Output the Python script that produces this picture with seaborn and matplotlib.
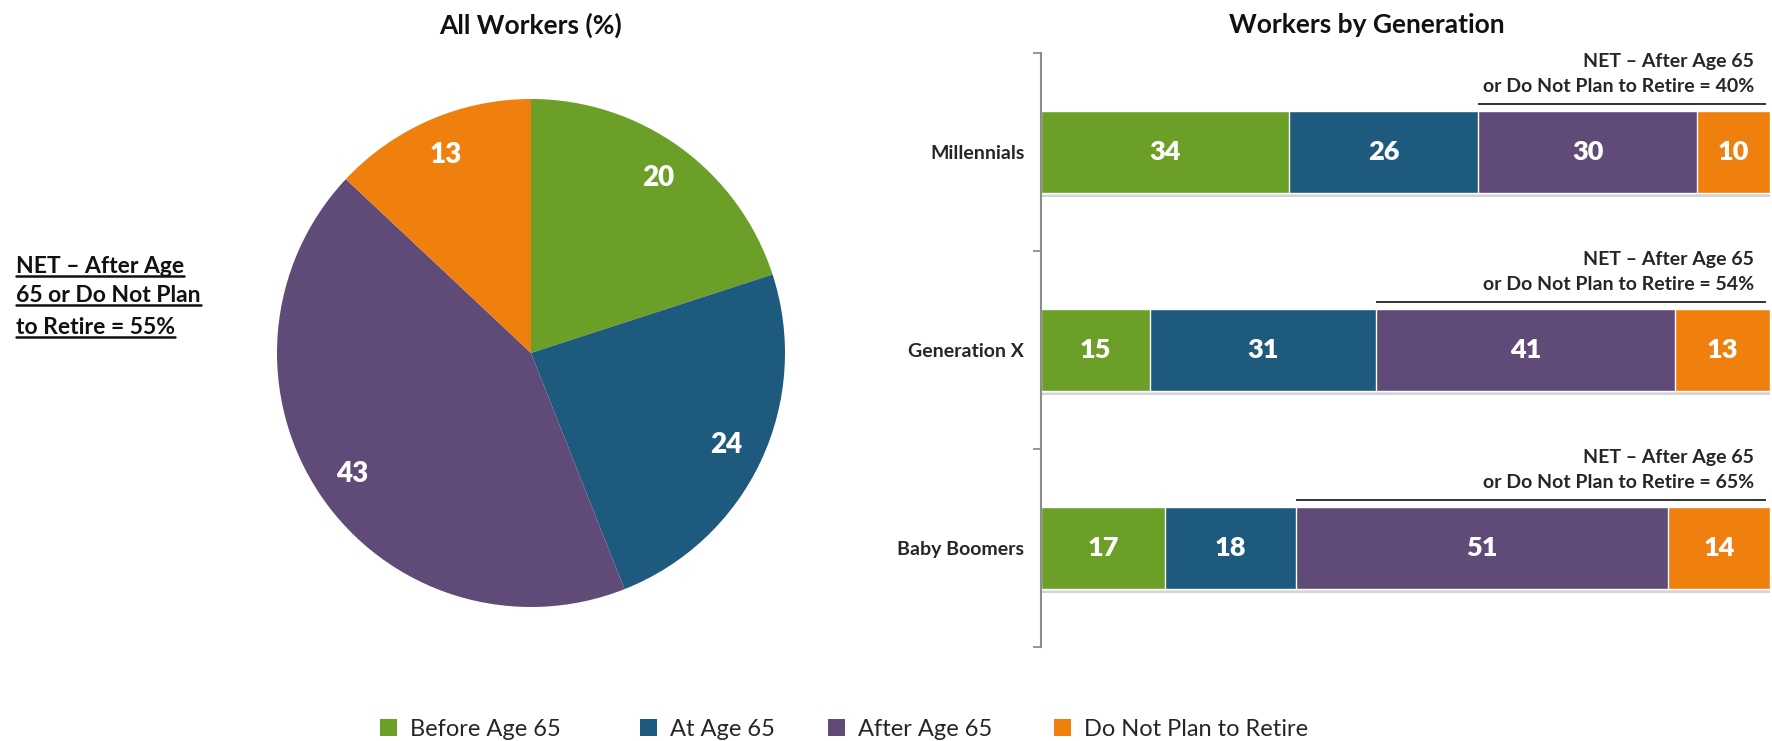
import numpy as np
import pandas as pd
import seaborn as sns
import matplotlib.pyplot as plt
import matplotlib.patches as mpatches
import matplotlib.patheffects as pe

# data
series = ['Before Age 65', 'At Age 65', 'After Age 65', 'Do Not Plan to Retire']
colors = ['#6b9f28', '#1e5a7d', '#604a78', '#ef800d']
all_workers = [20, 24, 43, 13]
generations = ['Millennials', 'Generation X', 'Baby Boomers']
before_65 = [34, 15, 17]
at_65 = [26, 31, 18]
after_65 = [30, 41, 51]
no_retire = [10, 13, 14]
net_by_gen = [40, 54, 65]
net_all = 55

sns.set_theme(style='white')
plt.rcParams['font.family'] = ['Lato', 'DejaVu Sans']

fig = plt.figure(figsize=(17.72, 7.41), dpi=100)
W, H = 1772, 741

# ---- pie ----
cx, cy, r = 531, 353, 254
ax_pie = fig.add_axes([(cx - r) / W, 1 - (cy + r) / H, 2 * r / W, 2 * r / H])
ax_pie.pie(all_workers, colors=colors, startangle=90, counterclock=False,
           labels=[str(v) for v in all_workers], labeldistance=0.85,
           wedgeprops=dict(linewidth=0),
           textprops=dict(color='white', fontsize=20, fontweight='heavy',
                          ha='center', va='center'))
ax_pie.set_xlim(-1, 1)
ax_pie.set_ylim(-1, 1)
ax_pie.set_aspect('auto')

fig.text(cx / W, 1 - 25 / H, 'All Workers (%)', ha='center', va='center',
         fontsize=19, fontweight='bold', color='#111111')

# ---- stacked bars ----
x0, x1, y0, y1 = 1041, 1770, 53, 647
ax = fig.add_axes([x0 / W, 1 - y1 / H, (x1 - x0) / W, (y1 - y0) / H])

df = pd.DataFrame({'Generation': generations, 'Before Age 65': before_65,
                   'At Age 65': at_65, 'After Age 65': after_65,
                   'Do Not Plan to Retire': no_retire})
cum = df[series].cumsum(axis=1)

for i in range(len(series) - 1, -1, -1):
    n_before = len(ax.patches)
    sns.barplot(x=cum[series[i]], y=df['Generation'], color=colors[i], orient='h',
                width=0.41, saturation=1, errorbar=None, ax=ax)
    if i == len(series) - 1:
        for p in ax.patches[n_before:]:
            p.set_path_effects([pe.SimplePatchShadow(offset=(1, -3), shadow_rgbFace='#888888', alpha=0.35),
                                pe.Normal()])

for gi in range(len(generations)):
    for si, s in enumerate(series):
        v = df.loc[gi, s]
        ax.text(cum.loc[gi, s] - v / 2, gi, str(v), ha='center', va='center',
                color='white', fontsize=19.5, fontweight='heavy')
    start = cum.loc[gi, 'At Age 65']
    ax.plot([start, 99.4], [gi - 0.24, gi - 0.24], color='#333333', lw=1.4,
            solid_capstyle='butt', clip_on=False)
    ax.text(97.8, gi - 0.33, 'or Do Not Plan to Retire = %d%%' % net_by_gen[gi],
            ha='right', va='center', fontsize=14, fontweight='bold', color='#262626')
    ax.text(97.8, gi - 0.455, 'NET \u2013 After Age 65',
            ha='right', va='center', fontsize=14, fontweight='bold', color='#262626')

ax.set_xlim(0, 100)
ax.set_ylim(2.5, -0.5)
ax.set_xlabel('')
ax.set_ylabel('')
ax.set_xticks([])
ax.set_yticks(range(len(generations)))
ax.set_yticklabels(generations, fontsize=14, fontweight='bold', color='#262626')
ax.set_yticks([-0.5, 0.5, 1.5, 2.5], minor=True)
ax.tick_params(axis='y', which='major', length=0, pad=12)
ax.tick_params(axis='y', which='minor', length=6, width=1.3, color='#8c8c8c', left=True)
for sp in ['top', 'right', 'bottom']:
    ax.spines[sp].set_visible(False)
ax.spines['left'].set_color('#8c8c8c')
ax.spines['left'].set_linewidth(1.5)

fig.text(1367 / W, 1 - 25 / H, 'Workers by Generation', ha='center', va='center',
         fontsize=19, fontweight='bold', color='#111111')

# ---- left NET note (underlined) ----
note_lines = ['NET \u2013 After Age', '65 or Do Not Plan', 'to Retire = %d%%' % net_all]
note_texts = []
for k, (line, yy) in enumerate(zip(note_lines, [267, 296, 327])):
    t = fig.text(16 / W, 1 - yy / H, line, ha='left', va='center', fontsize=16.5,
                 fontweight='bold', color='#111111')
    note_texts.append(t)
fig.canvas.draw()
rend = fig.canvas.get_renderer()
for t in note_texts:
    bb = t.get_window_extent(rend)
    yl = (bb.y0 + 1) / H
    fig.add_artist(plt.Line2D([bb.x0 / W, bb.x1 / W], [yl, yl], color='#111111', lw=1.8))

# ---- legend (one entry per box, spaced like the original) ----
legend_x = [380, 640, 828, 1054]
for c, s, lx in zip(colors, series, legend_x):
    h = mpatches.Patch(facecolor=c, edgecolor='none', label=s)
    leg = fig.legend(handles=[h], loc='center left', bbox_to_anchor=(lx / W, 1 - 729 / H),
                     frameon=False, fontsize=17, handlelength=0.72, handleheight=0.72,
                     handletextpad=0.57, borderpad=0, borderaxespad=0)

fig.savefig('out.png', dpi=100)
